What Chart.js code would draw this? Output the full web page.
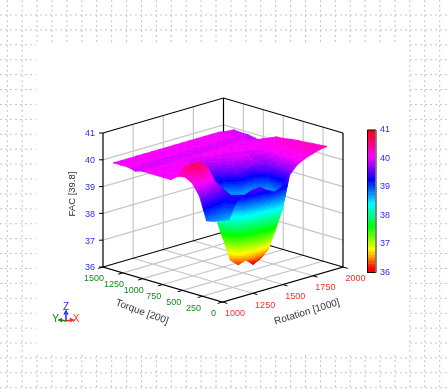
<!DOCTYPE html>
<html>
<head>
<meta charset="utf-8">
<title>FAC surface</title>
<script src="https://cdn.jsdelivr.net/npm/chart.js@4/dist/chart.umd.min.js"></script>
<style>
  html, body { margin: 0; padding: 0; background: #fff; }
  canvas { display: block; }
</style>
</head>
<body>
<canvas id="chart" width="448" height="390"></canvas>
<script>
// axis ticks
const rotationTicks = [1000, 1250, 1500, 1750, 2000];
const torqueTicks = [0, 250, 500, 750, 1000, 1250, 1500];
const facTicks = [36, 37, 38, 39, 40, 41];

// surface samples
const rotationValues = [1000, 1062.5, 1125, 1187.5, 1250, 1312.5, 1375, 1437.5, 1500, 1562.5, 1625, 1687.5, 1750, 1812.5, 1875, 1937.5, 2000];
const torqueValues = [200, 290, 380, 470, 560, 650, 740, 830, 920, 1010, 1100, 1190, 1280, 1370];
const facRows = [
  [38.85, 38.75, 38.7, 38.65, 39.25, 39.4, 39.5, 39.55, 39.35, 39.2, 39.3, 39.65, 39.95, 40.1, 40.2, 40.28, 40.33],
  [39.7, 39.6, 39.45, 39.3, 39.4, 39.1, 38.8, 38.6, 38.5, 38.4, 38.1, 38.3, 39.7, 40, 40.15, 40.25, 40.3],
  [40.1, 40.3, 40.2, 39.9, 39.6, 38.8, 38.1, 37.65, 37.4, 37.25, 37.25, 37.45, 39.6, 40.05, 40.15, 40.23, 40.28],
  [40.25, 40.65, 40.65, 40.35, 39.75, 38.3, 37.5, 36.8, 36.5, 36.45, 36.5, 36.65, 39.65, 40, 40.15, 40.2, 40.25],
  [40.2, 40.5, 40.5, 40.3, 39.85, 38.3, 37.4, 36.5, 36.25, 36.35, 36.1, 36.25, 39.65, 40, 40.13, 40.18, 40.23],
  [40, 40.1, 40.15, 40.1, 40, 39, 38.25, 37.3, 36.4, 39.5, 39.6, 39.8, 39.7, 40, 40.13, 40.15, 40.2],
  [40, 40.05, 40.05, 40.05, 40, 39.7, 39.4, 39.1, 39.6, 39.8, 39.9, 39.95, 39.85, 40, 40.1, 40.15, 40.15],
  [40, 40, 40, 40, 40, 39.95, 39.8, 39.7, 39.8, 39.9, 39.95, 40, 40, 40, 40.05, 40.1, 40.13],
  [40, 40, 40, 40, 40, 40, 39.95, 39.95, 40, 40, 40, 40, 40.05, 40.05, 40.05, 40.05, 40],
  [40, 40, 40, 40, 40, 40, 40, 40, 40, 40, 40, 40.05, 40.05, 40.05, 40, 39.9, 39.79],
  [39.93, 39.93, 39.93, 39.93, 39.93, 39.93, 39.93, 39.93, 39.93, 39.93, 39.93, 39.93, 39.93, 39.93, 39.93, 39.9, 39.85],
  [40, 40, 40, 40, 40, 40, 40, 40, 40, 40, 40, 40, 40, 40, 40, 39.95, 39.9],
  [40, 40, 40, 40, 40, 40, 40, 40, 40, 40, 40, 40, 40, 40, 40, 39.95, 39.9],
  [40, 40, 40, 40, 40, 40, 40, 40, 40, 40, 40, 40, 40, 40, 40, 39.95, 39.93]
];

const canvas = document.getElementById('chart');
const ctx = canvas.getContext('2d');
const datasets = [];

// box projection, the view is nearly parallel
function project(rotation, torque, fac) {
  const r = (rotation - 1000) / 1000;
  const t = torque / 1500;
  const z = (fac - 36) / 5;
  return {
    x: 222.5 + 120.5 * r - 119.5 * t,
    y: 302 - 35 * r - 35 * t - 134 * z
  };
}

function barY(fac) {
  return 272.5 - (fac - 36) / 5 * 142.5;
}

// colour scale
const hueStops = [[0, 0], [0.03, 0], [0.16, 60], [0.32, 120], [0.48, 180], [0.65, 240], [0.81, 300], [1, 360]];
const levels = 64;

function colorAt(z) {
  let hue = 0;
  for (let i = 0; i < hueStops.length - 1; i++) {
    const a = hueStops[i];
    const b = hueStops[i + 1];
    if (z >= a[0] && z <= b[0]) {
      hue = a[1] + (z - a[0]) / (b[0] - a[0]) * (b[1] - a[1]);
    }
  }
  return 'hsl(' + hue.toFixed(1) + ',100%,50%)';
}

function levelColor(z) {
  const k = Math.min(levels - 1, Math.max(0, Math.floor(z * levels)));
  return colorAt((k + 0.5) / levels);
}

// banded gradient running from a (value zA) to b (value zB)
function bandGradient(a, b, zA, zB) {
  const g = ctx.createLinearGradient(a.x, a.y, b.x, b.y);
  const first = Math.max(0, Math.floor(zA * levels));
  const last = Math.min(levels - 1, Math.floor(zB * levels));
  for (let k = first; k <= last; k++) {
    const from = Math.max(0, (k / levels - zA) / (zB - zA));
    const to = Math.min(1, ((k + 1) / levels - zA) / (zB - zA));
    const c = colorAt((k + 0.5) / levels);
    g.addColorStop(from, c);
    g.addColorStop(to, c);
  }
  return g;
}

function triangleFill(p, z) {
  const x1 = p[1].x - p[0].x;
  const y1 = p[1].y - p[0].y;
  const x2 = p[2].x - p[0].x;
  const y2 = p[2].y - p[0].y;
  const d = x1 * y2 - x2 * y1;
  const zLow = Math.min(z[0], z[1], z[2]);
  const zHigh = Math.max(z[0], z[1], z[2]);
  if (Math.abs(d) < 0.001 || zHigh - zLow < 0.0005) {
    return levelColor((zLow + zHigh) / 2);
  }
  const gx = ((z[1] - z[0]) * y2 - (z[2] - z[0]) * y1) / d;
  const gy = ((z[2] - z[0]) * x1 - (z[1] - z[0]) * x2) / d;
  const g2 = gx * gx + gy * gy;
  const low = p[z.indexOf(zLow)];
  const span = (zHigh - zLow) / g2;
  return bandGradient(low, { x: low.x + gx * span, y: low.y + gy * span }, zLow, zHigh);
}

function addLine(points, color, width) {
  datasets.push({
    data: points,
    showLine: true,
    fill: false,
    borderColor: color,
    borderWidth: width,
    pointRadius: 0,
    tension: 0
  });
}

function addShape(points, fillStyle, edge) {
  datasets.push({
    data: points.concat([points[0]]),
    showLine: true,
    fill: 'shape',
    backgroundColor: fillStyle,
    borderColor: fillStyle,
    borderWidth: edge,
    pointRadius: 0,
    tension: 0
  });
}

// walls and floor
const gridColor = '#c6c6c6';
const rotMin = rotationTicks[0];
const rotMax = rotationTicks[rotationTicks.length - 1];
const torMin = torqueTicks[0];
const torMax = torqueTicks[torqueTicks.length - 1];
const facMin = facTicks[0];
const facMax = facTicks[facTicks.length - 1];

rotationTicks.slice(1, -1).forEach(function (v) {
  addLine([project(v, torMin, facMin), project(v, torMax, facMin), project(v, torMax, facMax)], gridColor, 1.2);
});
torqueTicks.slice(1, -1).forEach(function (v) {
  addLine([project(rotMin, v, facMin), project(rotMax, v, facMin), project(rotMax, v, facMax)], gridColor, 1.2);
});
facTicks.slice(1, -1).forEach(function (v) {
  addLine([project(rotMin, torMax, v), project(rotMax, torMax, v), project(rotMax, torMin, v)], gridColor, 1.2);
});

// black frame
addLine([project(rotMin, torMax, facMax), project(rotMax, torMax, facMax), project(rotMax, torMin, facMax)], '#000', 1.2);
addLine([project(rotMin, torMax, facMax), project(rotMin, torMax, facMin), project(rotMin, torMin, facMin), project(rotMax, torMin, facMin), project(rotMax, torMin, facMax)], '#000', 1.2);
addLine([project(rotMin, torMax, facMin), project(rotMax, torMax, facMin), project(rotMax, torMin, facMin)], '#000', 1.2);
addLine([project(rotMax, torMax, facMin), project(rotMax, torMax, facMax)], '#000', 1.2);

// tick marks
torqueTicks.forEach(function (v) {
  addLine([project(rotMin, v, facMin), project(rotMin - 40, v, facMin)], '#000', 1);
});
rotationTicks.forEach(function (v) {
  addLine([project(v, torMin, facMin), project(v, torMin - 60, facMin)], '#000', 1);
});
facTicks.forEach(function (v) {
  const p = project(rotMin, torMax, v);
  addLine([p, { x: p.x - 4, y: p.y }], '#000', 1);
});

// surface triangles, far ones first
const triangles = [];
for (let j = 0; j < torqueValues.length - 1; j++) {
  for (let i = 0; i < rotationValues.length - 1; i++) {
    const corner = function (a, b) {
      return {
        p: project(rotationValues[a], torqueValues[b], facRows[b][a]),
        z: (facRows[b][a] - 36) / 5,
        s: a / 16 + b / 13
      };
    };
    const c00 = corner(i, j);
    const c10 = corner(i + 1, j);
    const c01 = corner(i, j + 1);
    const c11 = corner(i + 1, j + 1);
    if (Math.abs(c00.z - c11.z) < Math.abs(c10.z - c01.z)) {
      triangles.push([c00, c10, c11], [c00, c11, c01]);
    } else {
      triangles.push([c00, c10, c01], [c10, c11, c01]);
    }
  }
}
triangles.sort(function (a, b) {
  return (b[0].s + b[1].s + b[2].s) - (a[0].s + a[1].s + a[2].s);
});
triangles.forEach(function (tri) {
  const pts = tri.map(function (c) { return c.p; });
  const zs = tri.map(function (c) { return c.z; });
  addShape(pts, triangleFill(pts, zs), 0.7);
});

// colour bar
const barLeft = 367.5;
const barRight = 376;
const barGradient = bandGradient({ x: barLeft, y: barY(36) }, { x: barLeft, y: barY(41) }, 0, 1);
addShape([{ x: barLeft, y: barY(36) }, { x: barRight, y: barY(36) }, { x: barRight, y: barY(41) }, { x: barLeft, y: barY(41) }], barGradient, 0);
addLine([{ x: barRight, y: barY(41) }, { x: barLeft, y: barY(41) }, { x: barLeft, y: barY(36) }, { x: barRight, y: barY(36) }], '#000', 1);
addLine([{ x: barRight, y: barY(41) }, { x: barRight, y: barY(36) }], '#777', 1);

// orientation marker
addLine([{ x: 66, y: 321 }, { x: 66, y: 313 }], '#2020ff', 1.5);
addLine([{ x: 64, y: 314.5 }, { x: 66, y: 311 }, { x: 68, y: 314.5 }], '#2020ff', 1.4);
addLine([{ x: 66, y: 321 }, { x: 61, y: 320 }], '#108010', 1.5);
addLine([{ x: 62, y: 318.5 }, { x: 59, y: 320 }, { x: 62, y: 321.5 }], '#108010', 1.4);
addLine([{ x: 66, y: 321 }, { x: 71, y: 320 }], '#ff2020', 1.5);
addLine([{ x: 70, y: 318.5 }, { x: 73, y: 320 }, { x: 70, y: 321.5 }], '#ff2020', 1.4);

// first dataset ends up on top, so number them the other way round
datasets.forEach(function (d, i) {
  d.order = datasets.length - i;
});

const backdrop = {
  id: 'backdrop',
  beforeDraw: function (chart) {
    const c = chart.ctx;
    c.save();
    c.fillStyle = '#fff';
    c.fillRect(0, 0, 448, 390);
    c.strokeStyle = '#c4c4c4';
    c.lineWidth = 1;
    c.setLineDash([2, 3]);
    c.beginPath();
    for (let x = 7.3; x < 448; x += 14.91) {
      c.moveTo(x, 0);
      c.lineTo(x, 390);
    }
    for (let y = 15; y < 390; y += 14.91) {
      c.moveTo(0, y);
      c.lineTo(448, y);
    }
    c.stroke();
    c.fillStyle = '#fff';
    c.fillRect(36, 44, 373, 308);
    c.restore();
  }
};

const labels = {
  id: 'labels',
  afterDatasetsDraw: function (chart) {
    const c = chart.ctx;
    const text = function (str, x, y, color, font, angle) {
      c.save();
      c.translate(x, y);
      c.rotate((angle || 0) * Math.PI / 180);
      c.fillStyle = color;
      c.font = font;
      c.textAlign = 'center';
      c.textBaseline = 'middle';
      c.fillText(str, 0, 0);
      c.restore();
    };
    const tickFont = '9px "Liberation Sans"';
    const titleFont = '10px "Liberation Sans"';
    const markerFont = '10px "Liberation Sans"';
    torqueTicks.forEach(function (v) {
      const p = project(rotMin, v, facMin);
      text(String(v), p.x - 9, p.y + 12, '#158a15', tickFont);
    });
    rotationTicks.forEach(function (v) {
      const p = project(v, torMin, facMin);
      text(String(v), p.x + 12.5, p.y + 12, '#ff2a2a', tickFont);
    });
    facTicks.forEach(function (v) {
      const p = project(rotMin, torMax, v);
      text(String(v), p.x - 13, p.y + 1, '#2a2aff', tickFont);
      text(String(v), 385, barY(v), '#2a2aff', tickFont);
    });
    text('Torque [200]', 142, 312, '#333', titleFont, 20);
    text('Rotation [1000]', 307, 312, '#333', titleFont, -17);
    text('FAC [39.8]', 72, 194, '#333', '9.5px "Liberation Sans"', -90);
    text('Z', 66, 307, '#2a2aff', markerFont);
    text('Y', 55.5, 319, '#158a15', markerFont);
    text('X', 76, 319, '#ff2a2a', markerFont);
  }
};

new Chart(canvas, {
  type: 'scatter',
  data: { datasets: datasets },
  plugins: [backdrop, labels],
  options: {
    responsive: false,
    animation: false,
    events: [],
    layout: { padding: 0 },
    plugins: { legend: { display: false }, tooltip: { enabled: false } },
    scales: {
      x: { type: 'linear', min: 0, max: 448, display: false },
      y: { type: 'linear', min: 0, max: 390, reverse: true, display: false }
    }
  }
});
</script>
</body>
</html>
